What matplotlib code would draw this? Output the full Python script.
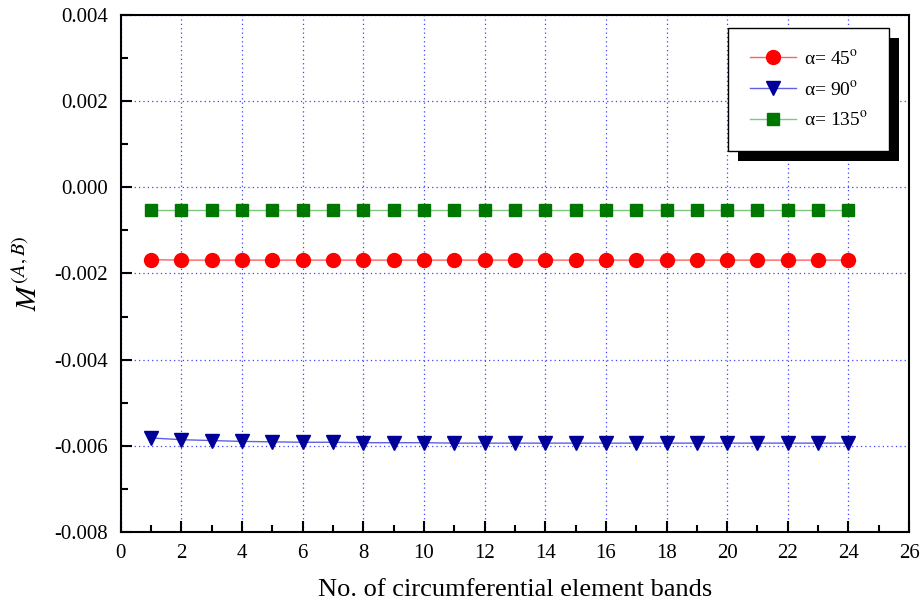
import matplotlib.pyplot as plt
import matplotlib.patheffects as pe
import numpy as np

plt.rcParams['font.family'] = ['Liberation Serif', 'DejaVu Serif']
plt.rcParams['mathtext.fontset'] = 'stix'

bands = list(range(1, 25))
m45 = [-0.00168, -0.00169] + [-0.00169] * 22
m90 = [-0.00582, -0.00586, -0.00588, -0.00590, -0.00591, -0.00592, -0.00592, -0.00593,
       -0.00593, -0.00593, -0.00594, -0.00594, -0.00594, -0.00594, -0.00594, -0.00594,
       -0.00594, -0.00594, -0.00594, -0.00594, -0.00594, -0.00594, -0.00594, -0.00594]
m135 = [-0.00053] * 24

fig = plt.figure(figsize=(9.22, 6.03), dpi=100)
ax = fig.add_axes([0.131, 0.118, 0.855, 0.857])

ax.plot(bands, m45, color='#ff6060', lw=1, marker='o', ms=10,
        mfc='red', mec='red', label=r'α= 45$^{\rm o}$', zorder=3)
ax.plot(bands, m90, color='#6060e0', lw=1, marker='v', ms=10,
        mfc='#000099', mec='#000099', label=r'α= 90$^{\rm o}$', zorder=3)
ax.plot(bands, m135, color='#80c880', lw=1, marker='s', ms=8,
        mfc='#007700', mec='#007700', label=r'α= 135$^{\rm o}$', zorder=3)

ax.set_xlim(0, 26)
ax.set_ylim(-0.008, 0.004)
ax.set_xticks(np.arange(0, 27, 2))
ax.set_xticks(np.arange(1, 26, 2), minor=True)
ax.set_yticks(np.arange(-0.008, 0.0041, 0.002))
ax.set_yticks(np.arange(-0.007, 0.004, 0.002), minor=True)
ax.set_yticklabels(['%.3f' % v for v in np.arange(-0.008, 0.0041, 0.002)])
ax.grid(True, which='major', color='#4040ff', ls=(0, (1, 2.5)), lw=0.9)
ax.tick_params(which='both', direction='in', labelsize=15, width=1.5, pad=9)
ax.tick_params(which='major', length=8)
ax.tick_params(which='minor', length=5)
for s in ax.spines.values():
    s.set_linewidth(1.5)

ax.set_xlabel('No. of circumferential element bands', fontsize=19, labelpad=11)
ax.set_ylabel(r'$M^{(A,B)}$', fontsize=21, labelpad=8)

leg = ax.legend(loc='upper right', bbox_to_anchor=(0.975, 0.975), fancybox=False,
                edgecolor='black', fontsize=14, handlelength=2.4, borderpad=1.1,
                labelspacing=0.6, handletextpad=0.4, framealpha=1,
                borderaxespad=0)
leg.get_frame().set_linewidth(1)
leg.get_frame().set_path_effects([
    pe.SimplePatchShadow(offset=(7, -7), shadow_rgbFace='black', alpha=1),
    pe.Normal()])

fig.savefig('out.png', dpi=100)
